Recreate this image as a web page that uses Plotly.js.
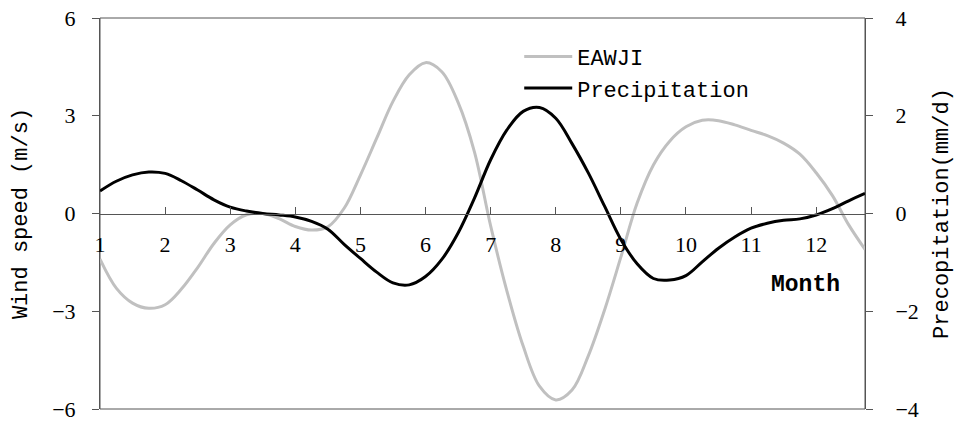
<!DOCTYPE html>
<html>
<head>
<meta charset="utf-8">
<script src="https://cdn.plot.ly/plotly-3.0.1.min.js"></script>
<style>html,body{margin:0;padding:0;background:#fff;}#chart{width:955px;height:421px;}</style>
</head>
<body>
<div id="chart"></div>
<script>
// Month positions (quarter-month resolution)
const months = [1.00,1.25,1.50,1.75,2.00,2.25,2.50,2.75,3.00,3.25,3.50,3.75,4.00,4.25,4.50,4.75,
  5.00,5.25,5.50,5.75,6.00,6.25,6.50,6.75,7.00,7.25,7.50,7.75,8.00,8.25,8.50,8.75,
  9.00,9.25,9.50,9.75,10.00,10.25,10.50,10.75,11.00,11.25,11.50,11.75,12.00,12.25,12.50,12.75];

// EAWJI wind speed (m/s), left axis
const eawji = [-1.40,-2.29,-2.75,-2.91,-2.80,-2.32,-1.66,-0.92,-0.35,-0.04,0.00,-0.16,-0.40,-0.51,-0.41,0.16,
  1.18,2.31,3.44,4.26,4.63,4.35,3.41,1.90,-0.38,-2.38,-4.07,-5.30,-5.72,-5.42,-4.37,-2.96,
  -1.34,0.32,1.49,2.22,2.66,2.86,2.85,2.72,2.55,2.39,2.16,1.82,1.25,0.55,-0.35,-1.10];

// Precipitation (mm/d), right axis
const precip = [0.46,0.66,0.79,0.85,0.82,0.67,0.48,0.28,0.13,0.05,0.00,-0.03,-0.07,-0.16,-0.32,-0.63,
  -0.92,-1.20,-1.42,-1.46,-1.29,-0.94,-0.40,0.31,1.10,1.71,2.09,2.17,1.95,1.43,0.83,0.15,
  -0.53,-1.03,-1.33,-1.36,-1.27,-0.99,-0.71,-0.48,-0.30,-0.20,-0.14,-0.11,-0.03,0.10,0.26,0.41];

const monthTicks = [1,2,3,4,5,6,7,8,9,10,11,12];
const leftTicks = [-6,-3,0,3,6];
const rightTicks = [-4,-2,0,2,4];

const serif = "Liberation Serif, Times New Roman, serif";
const mono = "Liberation Mono, Courier New, monospace";
const axisColor = "#555";
const fmt = v => v < 0 ? "\u2212" + Math.abs(v) : String(v);

const traces = [
  {x: months, y: eawji, name: "EAWJI", type: "scatter", mode: "lines",
   line: {color: "#c0c0c0", width: 3, shape: "spline", smoothing: 1.0}, yaxis: "y"},
  {x: months, y: precip, name: "Precipitation", type: "scatter", mode: "lines",
   line: {color: "#000000", width: 3, shape: "spline", smoothing: 1.0}, yaxis: "y2"}
];

const layout = {
  width: 955, height: 421,
  margin: {l: 100, r: 90, t: 18, b: 12},
  paper_bgcolor: "#fff", plot_bgcolor: "#fff",
  showlegend: true,
  legend: {x: 0.548, y: 0.955, xanchor: "left", yanchor: "top",
    font: {family: mono, size: 22, color: "#000"}, bgcolor: "rgba(0,0,0,0)",
    tracegroupgap: 0, itemwidth: 48},
  xaxis: {range: [1, 12.75], tickvals: monthTicks, ticktext: monthTicks.map(String),
    anchor: "free", position: 0.5, showline: true, linecolor: axisColor, linewidth: 1,
    ticks: "inside", ticklen: 7, tickcolor: axisColor, showgrid: false, zeroline: false,
    tickfont: {family: serif, size: 22, color: "#000"}, ticklabelstandoff: 11,
    ticklabeloverflow: "allow"},
  yaxis: {range: [-6, 6], tickvals: leftTicks, ticktext: leftTicks.map(fmt),
    showline: true, linecolor: axisColor, linewidth: 1, ticks: "outside", ticklen: 7, tickcolor: axisColor,
    showgrid: false, zeroline: false, tickfont: {family: serif, size: 22, color: "#000"}, ticklabelstandoff: 12,
    ticklabeloverflow: "allow",
    title: {text: "Wind speed (m/s)", font: {family: mono, size: 22, color: "#000"}, standoff: 18}},
  yaxis2: {range: [-4, 4], tickvals: rightTicks, ticktext: rightTicks.map(fmt),
    overlaying: "y", side: "right", showline: true, linecolor: axisColor, linewidth: 1,
    ticks: "outside", ticklen: 7, tickcolor: axisColor, showgrid: false, zeroline: false,
    tickfont: {family: serif, size: 22, color: "#000"}, ticklabelstandoff: 18,
    ticklabeloverflow: "allow",
    title: {text: "Precopitation(mm/d)", font: {family: mono, size: 22, color: "#000"}, standoff: 36}},
  shapes: [
    {type: "rect", xref: "paper", yref: "paper", x0: 0, x1: 1, y0: 0, y1: 1,
     line: {color: axisColor, width: 1}, layer: "below"}
  ],
  annotations: [
    {text: "<b>Month</b>", xref: "paper", yref: "paper", x: 0.922, y: 0.317,
     xanchor: "center", yanchor: "middle", showarrow: false,
     font: {family: mono, size: 23, color: "#000"}}
  ]
};

Plotly.newPlot("chart", traces, layout, {displayModeBar: false, staticPlot: true});
</script>
</body>
</html>
